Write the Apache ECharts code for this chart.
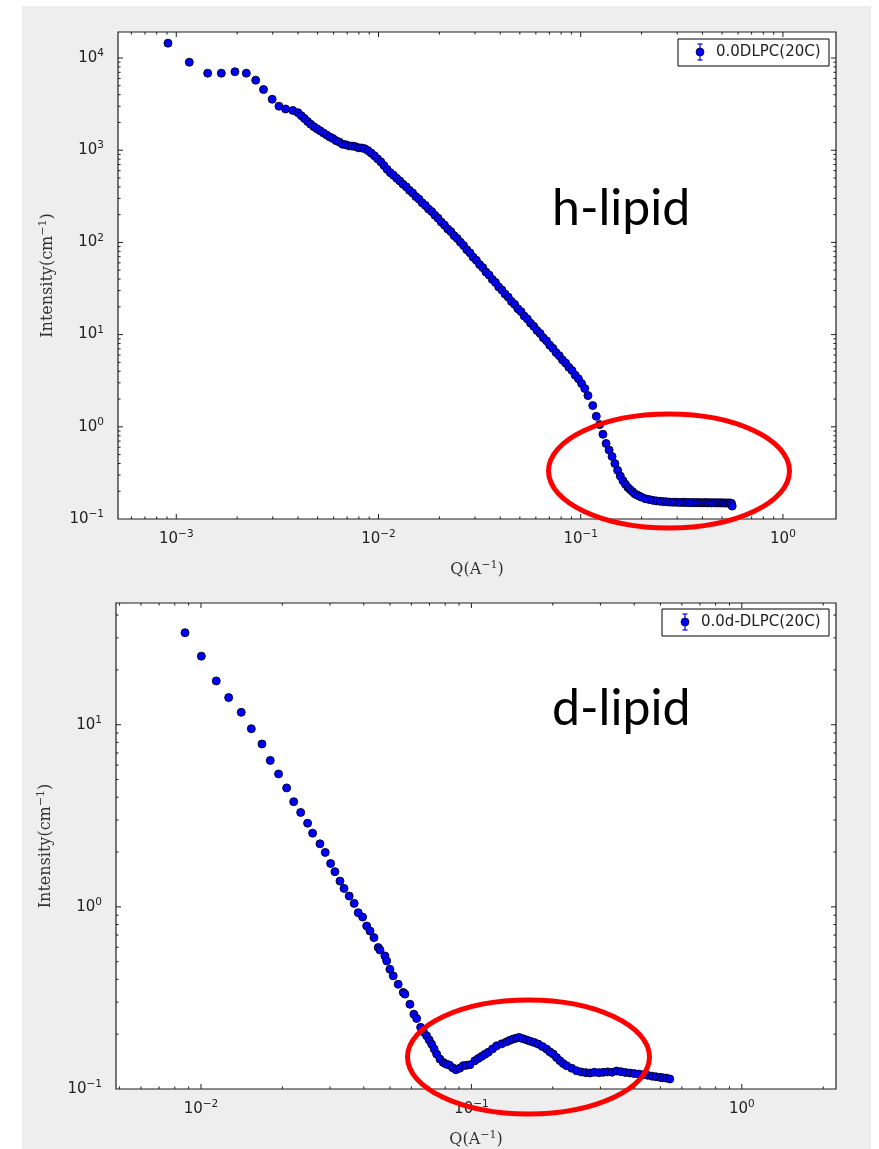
<!DOCTYPE html>
<html>
<head>
<meta charset="utf-8">
<script src="https://cdn.jsdelivr.net/npm/echarts@6.0.0/dist/echarts.min.js"></script>
<style>
  html, body { margin: 0; padding: 0; background: #ffffff; }
  #chart { width: 879px; height: 1149px; }
</style>
</head>
<body>
<div id="chart"></div>
<script>
// ---- h-DLPC (protonated lipid) scattering curve: Q in 1/Å, intensity in 1/cm ----
const hName = '0.0DLPC(20C)';
const hQ = [
  0.00091, 0.00116, 0.00143, 0.00167, 0.00195, 0.00222, 0.00247, 0.00270, 0.00298, 0.00322, 0.00347, 0.00377, 0.00400,
  0.00415, 0.00430, 0.00446, 0.00462, 0.00479, 0.00497, 0.00515, 0.00534, 0.00554, 0.00574,
  0.00595, 0.00617, 0.00640, 0.00664, 0.00688, 0.00714, 0.00740, 0.00767, 0.00796, 0.00825,
  0.00855, 0.00887, 0.00920, 0.00954, 0.00989, 0.01026, 0.01064, 0.01103, 0.01144, 0.01186,
  0.01230, 0.01275, 0.01322, 0.01371, 0.01422, 0.01474, 0.01529, 0.01585, 0.01644, 0.01705,
  0.01768, 0.01833, 0.01901, 0.01971, 0.02044, 0.02119, 0.02198, 0.02279, 0.02363, 0.02451,
  0.02541, 0.02635, 0.02733, 0.02834, 0.02938, 0.03047, 0.03160, 0.03277, 0.03398, 0.03523,
  0.03654, 0.03789, 0.03929, 0.04074, 0.04225, 0.04381, 0.04543, 0.04711, 0.04885, 0.05066,
  0.05253, 0.05447, 0.05649, 0.05858, 0.06074, 0.06299, 0.06532, 0.06774, 0.07024, 0.07284,
  0.07553, 0.07833, 0.08122, 0.08423, 0.08734, 0.09058, 0.09393, 0.09740, 0.10100, 0.10474,
  0.10862, 0.1147, 0.1194, 0.1241, 0.1288, 0.1335, 0.1382, 0.1429, 0.1476, 0.1523,
  0.1570, 0.1617, 0.1664, 0.1711, 0.1758, 0.1805, 0.1852, 0.1899, 0.1946, 0.1993,
  0.2087, 0.2181, 0.2275, 0.2369, 0.2463, 0.2557, 0.2651, 0.2745, 0.2839, 0.2933,
  0.3027, 0.3121, 0.3215, 0.3309, 0.3403, 0.3497, 0.3591, 0.3685, 0.3779, 0.3873,
  0.3967, 0.4061, 0.4155, 0.4249, 0.4343, 0.4437, 0.4531, 0.4625, 0.4719, 0.4813,
  0.4907, 0.5001, 0.5095, 0.5189, 0.5283, 0.5377, 0.5471, 0.5565, 0.5610
];
const hI = [
  14500, 9000, 6850, 6850, 7100, 6850, 5750, 4550, 3570, 3000, 2800, 2700, 2550,
  2370, 2210, 2050, 1915, 1800, 1706, 1622, 1541, 1462, 1393,
  1340, 1270, 1225, 1160, 1148, 1115, 1108, 1095, 1062, 1058,
  1040, 990, 930, 872, 806, 748, 682, 620, 571, 536,
  495, 464, 428, 401, 367, 344, 314, 295, 269, 252,
  230, 216, 197, 183, 166, 154, 140, 131, 118.5, 110.5,
  100.5, 92.6, 83.2, 77.0, 69.1, 64.0, 57.5, 53.3, 47.7, 44.3,
  39.7, 36.8, 32.9, 30.5, 27.5, 25.5, 22.9, 21.3, 19.1, 17.8,
  15.9, 14.8, 13.3, 12.3, 11.1, 10.3, 9.22, 8.56, 7.68, 7.10,
  6.38, 5.91, 5.31, 4.91, 4.42, 4.08, 3.63, 3.32, 2.95, 2.60,
  2.18, 1.70, 1.30, 1.056, 0.830, 0.659, 0.560, 0.477, 0.399, 0.337,
  0.292, 0.260, 0.238, 0.220, 0.208, 0.198, 0.1875, 0.1824, 0.1775, 0.1727,
  0.1660, 0.1625, 0.1595, 0.1572, 0.1558, 0.1545, 0.1538, 0.1525, 0.1520, 0.1522,
  0.1515, 0.1512, 0.1518, 0.1508, 0.1511, 0.1505, 0.1509, 0.1502, 0.1507, 0.1500,
  0.1504, 0.1498, 0.1506, 0.1497, 0.1502, 0.1495, 0.1503, 0.1494, 0.1500, 0.1492,
  0.1499, 0.1490, 0.1497, 0.1488, 0.1495, 0.1486, 0.1493, 0.1480, 0.1380
];

// ---- d-DLPC (deuterated lipid) scattering curve ----
const dName = '0.0d-DLPC(20C)';
const dQ = [
  0.00873, 0.01003, 0.01139, 0.01266, 0.01409, 0.01535, 0.01681, 0.01804, 0.01936, 0.02074,
  0.02202, 0.02337, 0.02479, 0.02587, 0.02754, 0.02881, 0.03016, 0.03129, 0.03266, 0.03380,
  0.03532, 0.03687, 0.03815, 0.03960, 0.04100, 0.04217, 0.04362, 0.04524, 0.04590, 0.04788,
  0.04860, 0.04997, 0.05139, 0.05362, 0.05597, 0.05677, 0.05924, 0.06128, 0.06272, 0.06491,
  0.06650, 0.06827, 0.06980, 0.07126, 0.07280, 0.07437, 0.07649, 0.07866, 0.08060, 0.08279,
  0.08520, 0.08764, 0.09050, 0.09327, 0.09600, 0.09873, 0.10300, 0.10600, 0.10910, 0.11220,
  0.11540, 0.11970, 0.12400, 0.12950, 0.13490, 0.13880, 0.14270, 0.14640, 0.15020, 0.15500,
  0.16000, 0.16500, 0.17080, 0.17660, 0.18300, 0.18970, 0.19500, 0.20060, 0.20640, 0.21240,
  0.21850, 0.22500, 0.23500, 0.24490, 0.25500, 0.26500, 0.27440, 0.28500, 0.29600, 0.30700,
  0.31900, 0.33100, 0.34420, 0.35700, 0.37100, 0.38550, 0.40000, 0.41600, 0.43160, 0.44800,
  0.46500, 0.48100, 0.49740, 0.51000, 0.52500, 0.54180
];
const dI = [
  32.0, 23.8, 17.4, 14.1, 11.7, 9.51, 7.84, 6.37, 5.37, 4.50,
  3.78, 3.30, 2.88, 2.54, 2.22, 1.99, 1.73, 1.56, 1.385, 1.263,
  1.146, 1.045, 0.929, 0.879, 0.785, 0.737, 0.678, 0.598, 0.580, 0.538,
  0.505, 0.454, 0.418, 0.376, 0.339, 0.332, 0.292, 0.2575, 0.244, 0.218,
  0.206, 0.196, 0.186, 0.1764, 0.166, 0.1556, 0.146, 0.140, 0.137, 0.1354,
  0.131, 0.1276, 0.130, 0.1343, 0.135, 0.1359, 0.143, 0.147, 0.151, 0.155,
  0.159, 0.166, 0.1725, 0.177, 0.1815, 0.185, 0.188, 0.190, 0.192, 0.189,
  0.186, 0.183, 0.180, 0.1764, 0.171, 0.1656, 0.160, 0.1556, 0.149, 0.143,
  0.138, 0.1343, 0.130, 0.126, 0.124, 0.1230, 0.1224, 0.1236, 0.1229, 0.1234,
  0.1241, 0.1236, 0.1255, 0.1245, 0.1232, 0.1224, 0.1215, 0.1208, 0.1198, 0.1190,
  0.1176, 0.1168, 0.1159, 0.1152, 0.1148, 0.1135
];

// ---- axis ranges and decade tick labels (exponents of 10) ----
const hXRange = [5.15e-4, 1.83];
const hYRange = [0.1, 19150];
const dXRange = [4.85e-3, 2.23];
const dYRange = [0.1, 46.6];
const hXDecades = [-3, -2, -1, 0];
const hYDecades = [-1, 0, 1, 2, 3, 4];
const dXDecades = [-2, -1, 0];
const dYDecades = [-1, 0, 1];

const MINUS = '\u2212';
const tickColor = '#222222';
const frameColor = '#1e1e1e';
const markerEdge = 'rgba(0,0,30,0.9)';

function decadeFormatter(decades) {
  return function (v) {
    const e = Math.log10(v);
    const k = Math.round(e);
    if (Math.abs(e - k) > 1e-6 || decades.indexOf(k) < 0) return '';
    return '{b|10}{s|' + (k < 0 ? MINUS + (-k) : String(k)) + '}';
  };
}

const tickRich = {
  b: { fontFamily: 'DejaVu Sans', fontSize: 15, color: tickColor, lineHeight: 20 },
  s: { fontFamily: 'DejaVu Sans', fontSize: 10.5, color: tickColor, lineHeight: 10, verticalAlign: 'top' }
};
const nameRich = {
  a: { fontFamily: 'DejaVu Serif', fontSize: 16, color: '#333333', lineHeight: 20 },
  s: { fontFamily: 'DejaVu Serif', fontSize: 11, color: '#333333', lineHeight: 10, verticalAlign: 'top' }
};

function xAxisFor(gridIndex, range, decades) {
  return {
    type: 'log', gridIndex: gridIndex, min: range[0], max: range[1],
    axisLine: { show: false }, axisTick: { show: false }, splitLine: { show: false },
    axisLabel: { formatter: decadeFormatter(decades), rich: tickRich, margin: 10, hideOverlap: false },
    name: '{a|Q(A}{s|' + MINUS + '1}{a|)}',
    nameLocation: 'middle', nameGap: 41,
    nameTextStyle: { rich: nameRich }
  };
}
function yAxisFor(gridIndex, range, decades) {
  return {
    type: 'log', gridIndex: gridIndex, min: range[0], max: range[1],
    axisLine: { show: false }, axisTick: { show: false }, splitLine: { show: false },
    axisLabel: { formatter: decadeFormatter(decades), rich: tickRich, margin: 14, hideOverlap: false },
    name: '{a|Intensity(cm}{s|' + MINUS + '1}{a|)}',
    nameLocation: 'middle', nameGap: 60,
    nameTextStyle: { rich: nameRich }
  };
}

// Positions 1..9 x 10^k inside a log range: inward ticks on all four sides
function logTickValues(range) {
  const out = [];
  const k0 = Math.floor(Math.log10(range[0]));
  const k1 = Math.ceil(Math.log10(range[1]));
  for (let k = k0; k <= k1; k++) {
    for (let m = 1; m <= 9; m++) {
      const v = m * Math.pow(10, k);
      if (v > range[0] * 1.0001 && v < range[1] * 0.9999) out.push([v, m === 1 ? 1 : 0]);
    }
  }
  return out;
}
function tickSeries(gridIndex, xr, yr) {
  const items = [];
  logTickValues(xr).forEach(function (t) { items.push([t[0], yr[0], 0, t[1]]); });
  logTickValues(yr).forEach(function (t) { items.push([xr[0], t[0], 1, t[1]]); });
  return {
    type: 'custom', xAxisIndex: gridIndex, yAxisIndex: gridIndex,
    silent: true, clip: false, z: 6, data: items,
    renderItem: function (params, api) {
      const which = api.value(2);
      const len = api.value(3) ? 5 : 2.6;
      const st = { stroke: frameColor, lineWidth: 1 };
      if (which === 0) {
        const v = api.value(0);
        const b = api.coord([v, yr[0]]);
        const t = api.coord([v, yr[1]]);
        return { type: 'group', children: [
          { type: 'line', shape: { x1: b[0], y1: b[1], x2: b[0], y2: b[1] - len }, style: st },
          { type: 'line', shape: { x1: t[0], y1: t[1], x2: t[0], y2: t[1] + len }, style: st }
        ] };
      }
      const v = api.value(1);
      const l = api.coord([xr[0], v]);
      const r = api.coord([xr[1], v]);
      return { type: 'group', children: [
        { type: 'line', shape: { x1: l[0], y1: l[1], x2: l[0] + len, y2: l[1] }, style: st },
        { type: 'line', shape: { x1: r[0], y1: r[1], x2: r[0] - len, y2: r[1] }, style: st }
      ] };
    }
  };
}

function pointSeries(name, gridIndex, qs, is) {
  return {
    type: 'scatter', name: name, xAxisIndex: gridIndex, yAxisIndex: gridIndex,
    symbol: 'circle', symbolSize: 8, z: 3,
    itemStyle: { color: '#0000ff', borderColor: markerEdge, borderWidth: 1, opacity: 1 },
    emphasis: { disabled: true },
    data: qs.map(function (q, i) { return [q, is[i]]; })
  };
}

// Legend box with an error-bar marker, drawn as a small group
function legendGroup(x, y, w, h, mx, label) {
  const my = y + h / 2 - 0.5;
  const blue = '#0000ff';
  return {
    type: 'group', z: 50, children: [
      { type: 'rect', shape: { x: x, y: y, width: w, height: h }, style: { fill: '#ffffff', stroke: '#000000', lineWidth: 1 } },
      { type: 'line', shape: { x1: mx, y1: my - 8, x2: mx, y2: my + 8 }, style: { stroke: blue, lineWidth: 1.2 } },
      { type: 'line', shape: { x1: mx - 2.6, y1: my - 8, x2: mx + 2.6, y2: my - 8 }, style: { stroke: blue, lineWidth: 1.2 } },
      { type: 'line', shape: { x1: mx - 2.6, y1: my + 8, x2: mx + 2.6, y2: my + 8 }, style: { stroke: blue, lineWidth: 1.2 } },
      { type: 'circle', shape: { cx: mx, cy: my, r: 4 }, style: { fill: blue, stroke: markerEdge, lineWidth: 0.8 } },
      { type: 'text', style: { x: mx + 16, y: my, text: label, fontFamily: 'DejaVu Sans', fontSize: 15, fill: '#222222', verticalAlign: 'middle', align: 'left' } }
    ]
  };
}

const chart = echarts.init(document.getElementById('chart'), null, { renderer: 'canvas', width: 879, height: 1149 });

chart.setOption({
  animation: false,
  backgroundColor: '#ffffff',
  grid: [
    { left: 118, top: 32, width: 718, height: 487, show: true, backgroundColor: '#ffffff', borderColor: frameColor, borderWidth: 1.2, containLabel: false },
    { left: 116, top: 603, width: 720, height: 487, show: true, backgroundColor: '#ffffff', borderColor: frameColor, borderWidth: 1.2, containLabel: false }
  ],
  xAxis: [ xAxisFor(0, hXRange, hXDecades), xAxisFor(1, dXRange, dXDecades) ],
  yAxis: [ yAxisFor(0, hYRange, hYDecades), yAxisFor(1, dYRange, dYDecades) ],
  series: [
    pointSeries(hName, 0, hQ, hI),
    pointSeries(dName, 1, dQ, dI),
    tickSeries(0, hXRange, hYRange),
    tickSeries(1, dXRange, dYRange)
  ],
  graphic: [
    // grey figure panel behind both plots
    { type: 'rect', z: -100, silent: true, shape: { x: 22, y: 6, width: 849, height: 1143 }, style: { fill: '#eeeeee' } },
    legendGroup(678, 39, 151, 27, 700, hName),
    legendGroup(662, 609, 167, 27, 685, dName),
    { type: 'text', z: 60, style: { x: 552, y: 209, text: 'h-lipid', fontFamily: 'Lato', fontSize: 50, fill: '#000000', verticalAlign: 'middle', align: 'left' } },
    { type: 'text', z: 60, style: { x: 552, y: 709, text: 'd-lipid', fontFamily: 'Lato', fontSize: 50, fill: '#000000', verticalAlign: 'middle', align: 'left' } },
    // highlighted high-Q regions
    { type: 'ellipse', z: 70, silent: true, shape: { cx: 669, cy: 471, rx: 120.5, ry: 57 }, style: { fill: 'none', stroke: '#ff0000', lineWidth: 5 } },
    { type: 'ellipse', z: 70, silent: true, shape: { cx: 528.5, cy: 1057, rx: 121, ry: 57 }, style: { fill: 'none', stroke: '#ff0000', lineWidth: 5 } }
  ]
});
</script>
</body>
</html>
